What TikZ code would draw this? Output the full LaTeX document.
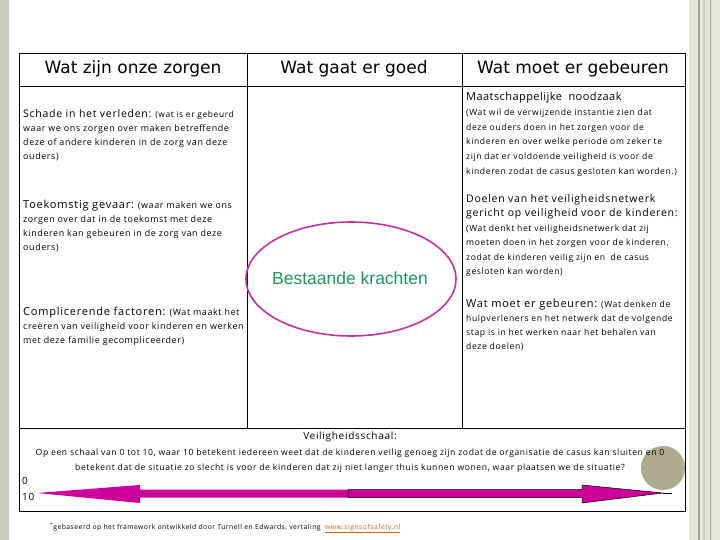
\documentclass[tikz,border=0pt]{standalone}
\usepackage{fontspec}
\setmainfont[LetterSpace=7]{Open Sans}
\newfontfamily\kopfont{DejaVu Sans}
\newfontfamily\arialfont{Liberation Sans}
\usetikzlibrary{positioning}
\definecolor{randgrijs}{RGB}{204,204,190}
\definecolor{lichtgrijs}{RGB}{228,228,218}
\definecolor{magentapijl}{RGB}{204,0,153}
\definecolor{ovaalrand}{RGB}{196,50,160}
\definecolor{krachtgroen}{RGB}{30,150,90}
\definecolor{knopkleur}{RGB}{174,170,142}
\definecolor{linkkleur}{RGB}{196,100,30}
\tikzset{
  kop/.style={font=\kopfont\fontsize{17}{19}\selectfont, inner sep=0pt},
  vak/.style={font=\fontsize{8.6}{14}\selectfont, align=left, anchor=base west, inner sep=0pt},
}
\newcommand{\vkop}[1]{{\fontsize{11}{14}\selectfont #1}}
\begin{document}
\begin{tikzpicture}[x=1pt,y=-1pt]
\useasboundingbox (0,0) rectangle (720,540);
% achtergrond
\fill [randgrijs] (0,0) rectangle (9,540);
\fill [lichtgrijs] (689,0) rectangle (720,540);
\draw [randgrijs!80!black, line width=1.2pt] (699,0) -- (699,540);
\draw [randgrijs, line width=2pt] (704,0) -- (704,540);
\draw [randgrijs!80!black, line width=0.6pt] (710,0) -- (710,540);
\fill [knopkleur] (663,468) circle (22);
% tabel
\draw [black, line width=0.8pt] (19,53) rectangle (685,511);
\draw [black, line width=0.8pt] (19,86) -- (685,86);
\draw [black, line width=0.8pt] (19,428) -- (685,428);
\draw [black, line width=0.8pt] (247,53) -- (247,428);
\draw [black, line width=0.8pt] (462,53) -- (462,428);
% koppen
\node [kop] (zorgen) at (133,69) {Wat zijn onze zorgen};
\node [kop] (goed) at (354,69) {Wat gaat er goed};
\node [kop] (gebeuren) at (573,69) {Wat moet er gebeuren};
% linker kolom (anker = basislijn van de laatste regel)
\node [vak, font=\fontsize{8.9}{14}\selectfont] (schade) at (23,160) {{\fontsize{10.5}{14}\selectfont Schade in het verleden:} {\fontsize{8.4}{14}\selectfont (wat is er gebeurd}\\
waar we ons zorgen over maken betreffende\\
deze of andere kinderen in de zorg van deze\\
ouders)};
\node [vak, font=\fontsize{8.9}{14}\selectfont] (gevaar) at (23,250.5) {\vkop{Toekomstig gevaar:} (waar maken we ons\\
zorgen over dat in de toekomst met deze\\
kinderen kan gebeuren in de zorg van deze\\
ouders)};
\node [vak, font=\fontsize{8.9}{14}\selectfont] (factoren) at (23,343.5) {\vkop{Complicerende factoren:} (Wat maakt het\\
cre\"eren van veiligheid voor kinderen en werken\\
met deze familie gecompliceerder)};
% middelste kolom
\draw [ovaalrand, line width=1.6pt] (351,279) ellipse [x radius=105, y radius=57];
\node [font=\arialfont\fontsize{17.5}{19}\selectfont, text=krachtgroen, inner sep=0pt] (krachten) at (350,278) {Bestaande krachten};
% rechter kolom
\node [vak, font=\fontsize{8.6}{14.8}\selectfont] (noodzaak) at (466,174.5) {{\addfontfeature{LetterSpace=4}\vkop{Maatschappelijke\ \ noodzaak}}\\
(Wat wil de verwijzende instantie zien dat\\
deze ouders doen in het zorgen voor de\\
kinderen en over welke periode om zeker te\\
zijn dat er voldoende veiligheid is voor de\\
kinderen zodat de casus gesloten kan worden.)};
\node [vak, font=\fontsize{8.6}{14.4}\selectfont] (doelen) at (466,274.5) {{\fontsize{10.5}{14}\selectfont Doelen van het veiligheidsnetwerk}\\
{\fontsize{10.5}{14}\selectfont gericht op veiligheid voor de kinderen:}\\
(Wat denkt het veiligheidsnetwerk dat zij\\
moeten doen in het zorgen voor de kinderen,\\
zodat de kinderen veilig zijn en\ \ de casus\\
gesloten kan worden)};
\node [vak] (stap) at (466,349.5) {\vkop{Wat moet er gebeuren:} (Wat denken de\\
hulpverleners en het netwerk dat de volgende\\
stap is in het werken naar het behalen van\\
deze doelen)};
% schaal
\node [font=\fontsize{10}{11}\selectfont, inner sep=0pt] (schaal) at (350,437) {Veiligheidsschaal:};
\node [font=\fontsize{8.6}{15}\selectfont, align=center, inner sep=0pt, anchor=base] (vraag) at (350,470) {Op een schaal van 0 tot 10, waar 10 betekent iedereen weet dat de kinderen veilig genoeg zijn zodat de organisatie de casus kan sluiten en 0\\
betekent dat de situatie zo slecht is voor de kinderen dat zij niet langer thuis kunnen wonen, waar plaatsen we de situatie?};
\node [font=\fontsize{10}{11}\selectfont, inner sep=0pt, anchor=west] (nul) at (22,481) {0};
\node [font=\fontsize{10}{11}\selectfont, inner sep=0pt, anchor=west] (tien) at (22,497) {10};
\coordinate (links) at (37,493);
\coordinate (midden) at (348,493.5);
\coordinate (rechts) at (663,493);
\fill [magentapijl] (links) -- (140,485) -- (140,489.5) -- (midden |- 0,489.5) -- (midden |- 0,497.5) -- (140,497.5) -- (140,503) -- cycle;
\filldraw [fill=magentapijl, draw=black, line width=0.5pt] (midden |- 0,489.5) -- (582,489.5) -- (582,485) -- (rechts) -- (582,503) -- (582,497.5) -- (midden |- 0,497.5) -- cycle;
\draw [black, line width=0.8pt] (rechts) -- (672,493);
% voetnoot
\node [font=\fontsize{6.8}{8}\selectfont, inner sep=0pt, anchor=west] (bron) at (50,528) {\textsuperscript{*}gebaseerd op het framework ontwikkeld door Turnell en Edwards, vertaling\ \ \textcolor{linkkleur}{\underline{www.signsofsafety.nl}}};
\end{tikzpicture}
\end{document}
